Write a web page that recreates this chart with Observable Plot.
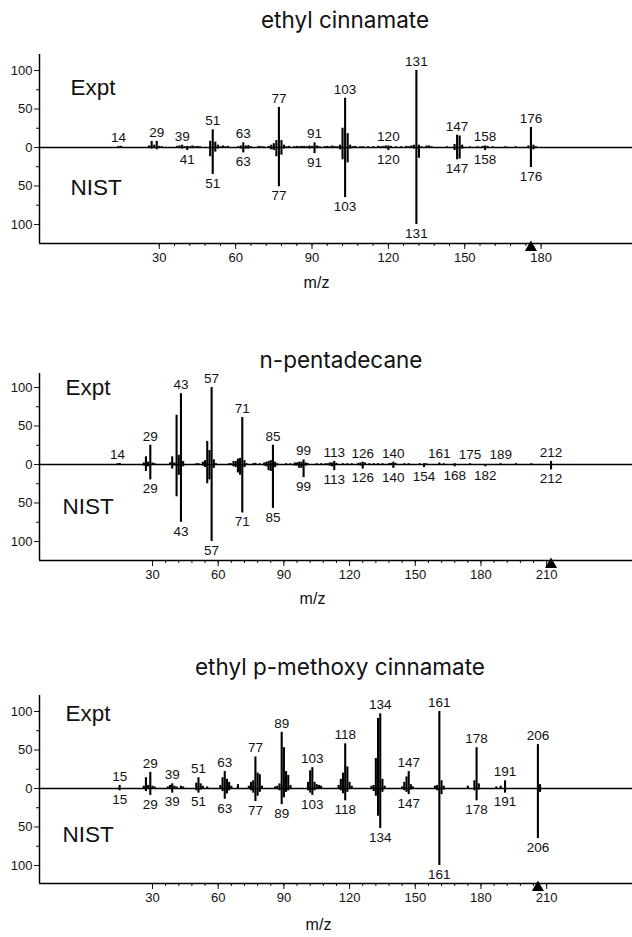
<!DOCTYPE html>
<html><head><meta charset="utf-8">
<script src="https://cdn.jsdelivr.net/npm/d3@7"></script>
<script src="https://cdn.jsdelivr.net/npm/@observablehq/plot@0.6"></script>
<style>
html,body{margin:0;padding:0;background:#fff;}
body{position:relative;width:632px;height:937px;overflow:hidden;}
.panel{position:absolute;left:0;width:632px;}
.title{position:absolute;width:400px;text-align:center;font-family:Inter,"Open Sans",sans-serif;font-size:22.5px;line-height:22px;color:#111;white-space:nowrap;}
</style></head><body>
<script>
// ---------- titles ----------
const titles = ["ethyl cinnamate", "n-pentadecane", "ethyl p-methoxy cinnamate"];
const sideLabelText = ["Expt", "NIST"];

// ---------- ethyl cinnamate: [m/z, relative intensity] ----------
const ecExpt = [[14,1.5],[15,1.5],[26,2],[27,8],[28,3],[29,8],[30,1.5],[31,1],[37,1.5],[38,2],[39,3],[40,1],[41,1.5],[42,1],[43,2],[44,1],[45,1.5],[46,1],
[50,8],[51,23],[52,7],[53,3],[54,1],[55,2],[56,1],[57,1.5],[61,1],[62,2],[63,6],[64,2],[65,2.5],[66,1],[69,1.5],[70,1],[71,1],[73,1.5],[74,3],[75,5],[76,9],[77,52],[78,9],[79,3],
[80,1],[81,1.5],[83,1],[84,1.5],[85,1],[86,1.5],[87,1.5],[88,1],[89,2],[90,1.5],[91,6],[92,2],[93,1],[95,1],[96,1.5],[97,1],[98,2],[99,1],[100,1],[101,3],[102,25],[103,64],[104,18],[105,3],[106,1],[107,1.5],
[109,1],[110,1],[112,1],[114,1],[116,1.5],[117,1],[118,1.5],[119,2],[120,2],[121,1.5],[123,1],[125,1],[127,1.5],[128,1],[129,2],[130,3],[131,100],[132,3],[133,1],[135,2],[136,2],[137,1],
[143,1],[146,4],[147,16],[148,15],[149,3],[152,1],[155,1],[157,1.5],[158,2],[159,1.5],[161,1],[166,1],[170,1],[175,2],[176,26],[177,3],[178,1]];
const ecNist = [[14,1],[27,2],[29,3],[38,1],[39,2],[41,4],[50,12],[51,35],[52,6],[53,2],[62,2],[63,7],[64,2],[65,2],[74,3],[75,4],[76,12],[77,51],[78,10],[79,2],
[89,2],[91,8],[92,1.5],[101,3],[102,16],[103,65],[104,20],[105,2],[119,1.5],[120,4],[121,1],[130,2],[131,100],[132,14],[133,1],[146,4],[147,16],[148,15],[149,2],[158,4],[176,26],[177,3]];
const ecLabelsExpt = [14,29,39,51,63,77,91,103,120,131,147,158,176];
const ecLabelsNist = [41,51,63,77,91,103,120,131,147,158,176];
const ecMolIon = [176];
const ecXTicks = [30,60,90,120,150,180];

// ---------- n-pentadecane ----------
const pdExpt = [[14,1],[15,1.5],[26,2],[27,10],[28,3],[29,25],[30,2],[31,1],[38,2],[39,10],[40,2],[41,64],[42,12],[43,92],[44,4],[50,1],[51,1],[53,3],[54,5],[55,30],[56,18],[57,100],[58,6],[59,1],
[65,1],[66,1],[67,4],[68,4],[69,7],[70,8],[71,61],[72,5],[73,1],[76,1],[77,1.5],[79,1],[81,2],[82,3],[83,4],[84,5],[85,25],[86,3],[87,1],[91,1],[93,1],[95,2],[96,2],[97,3],[98,3],[99,6],[100,2],[101,1],
[105,1],[107,1],[109,1],[110,1],[111,2],[112,2],[113,4],[114,1.5],[117,1],[119,1],[121,1],[124,1.5],[125,2],[126,3],[127,2],[129,1],[131,1],[133,1],[135,1],[138,1],[139,1.5],[140,3],[141,1.5],
[145,1],[147,1],[152,1],[154,1],[155,1],[161,2],[163,1],[168,1],[175,1],[189,1],[196,1],[203,1],[212,4]];
const pdNist = [[15,1],[26,2],[27,9],[28,3],[29,20],[39,6],[40,2],[41,42],[42,14],[43,75],[44,3],[53,2],[54,4],[55,25],[56,20],[57,100],[58,5],[67,3],[68,4],[69,11],[70,14],[71,63],[72,4],
[81,2],[82,3],[83,8],[84,9],[85,57],[86,4],[95,2],[96,2],[97,5],[98,5],[99,17],[100,2],[111,2],[112,3],[113,8],[114,1],[125,2],[126,6],[127,1],[139,1],[140,5],[141,1],[154,4],[155,1],[168,3],[182,3],[212,7]];
const pdLabelsExpt = [14,29,43,57,71,85,99,113,126,140,161,175,189,212];
const pdLabelsNist = [29,43,57,71,85,99,113,126,140,154,168,182,212];
const pdMolIon = [212];
const pdXTicks = [30,60,90,120,150,180,210];

// ---------- ethyl p-methoxy cinnamate ----------
const pmExpt = [[15,4],[26,3],[27,14],[28,4],[29,21],[30,3],[31,2],[37,2],[38,4],[39,6],[40,3],[41,2],[43,3],[44,2],[50,7],[51,14],[52,6],[53,3],[55,2],
[61,4],[62,14],[63,22],[64,12],[65,8],[66,3],[69,5],[74,3],[75,8],[76,10],[77,41],[78,20],[79,18],[80,3],[86,2],[87,3],[88,6],[89,73],[90,53],[91,22],[92,17],[93,4],
[101,8],[102,23],[103,27],[104,8],[105,5],[106,4],[107,3],[115,4],[116,12],[117,20],[118,58],[119,28],[120,8],[121,3],[130,3],[131,4],[132,39],[133,91],[134,97],[135,12],[136,3],
[144,2],[145,8],[146,15],[147,22],[148,5],[149,2],[159,3],[160,4],[161,100],[162,10],[163,3],[174,3],[177,10],[178,53],[179,6],[187,2],[189,3],[191,10],[206,57],[207,5]];
const pmNist = [[15,3],[27,4],[29,9],[39,6],[50,3],[51,6],[52,2],[62,4],[63,14],[64,7],[65,3],[75,3],[76,6],[77,17],[78,10],[79,5],[88,3],[89,21],[90,12],[91,5],[92,3],
[101,3],[102,6],[103,9],[104,3],[116,3],[117,7],[118,16],[119,5],[131,4],[132,10],[133,36],[134,52],[135,5],[145,3],[146,5],[147,8],[148,2],[160,3],[161,100],[162,8],[163,2],
[177,3],[178,16],[179,2],[191,6],[206,65],[207,5]];
const pmLabelsExpt = [15,29,39,51,63,77,89,103,118,134,147,161,178,191,206];
const pmLabelsNist = [15,29,39,51,63,77,89,103,118,134,147,161,178,191,206];
const pmMolIon = [206];
const pmXTicks = [30,60,90,120,150,180,210];

const yMajorTicks = [-100,-50,0,50,100];
const yMinorTicks = [-75,-25,25,75];

// ---------- layout (positions / styles) ----------
const panels = [
  {title: titles[0], expt: ecExpt, nist: ecNist, labE: ecLabelsExpt, labN: ecLabelsNist, mol: ecMolIon, xt: ecXTicks,
   top: 0, height: 310, mt: 54, mb: 67, xdom: [-17.05, 215.9], ydom: [-124.7, 120.8],
   titleX: 345, titleTop: 9, side: [{t: sideLabelText[0], y: 77, dx: 31}, {t: sideLabelText[1], y: -52, dx: 31}], mzDx: -19.5, mzDy: 44},
  {title: titles[1], expt: pdExpt, nist: pdNist, labE: pdLabelsExpt, labN: pdLabelsNist, mol: pdMolIon, xt: pdXTicks,
   top: 320, height: 300, mt: 53, mb: 60, xdom: [-21.6, 249.2], ydom: [-124.7, 118.2],
   titleX: 341, titleTop: 349, side: [{t: sideLabelText[0], y: 99, dx: 26}, {t: sideLabelText[1], y: -55, dx: 23}], mzDx: -23.5, mzDy: 43},
  {title: titles[2], expt: pmExpt, nist: pmNist, labE: pmLabelsExpt, labN: pmLabelsNist, mol: pmMolIon, xt: pmXTicks,
   top: 630, height: 307, mt: 65, mb: 54, xdom: [-21.6, 249.2], ydom: [-123.4, 120.8],
   titleX: 340, titleTop: 656, side: [{t: sideLabelText[0], y: 97, dx: 26}, {t: sideLabelText[1], y: -60, dx: 23}], mzDx: -17.5, mzDy: 46}
];

function makePanel(p) {
  const up = p.expt.map(([mz, v]) => ({mz, v}));
  const dn = p.nist.map(([mz, v]) => ({mz, v: -v}));
  const look = (arr, m) => { const f = arr.find(d => d.mz === m); return f ? f.v : 0; };
  const xMin = p.xt[0], xMax = p.xt[p.xt.length - 1];
  const minor = d3.range(xMin, xMax + 0.1, 6);
  return Plot.plot({
    width: 632, height: p.height,
    marginLeft: 39, marginRight: 0, marginTop: p.mt, marginBottom: p.mb,
    x: {domain: p.xdom}, y: {domain: p.ydom},
    style: {fontFamily: '"Liberation Sans", Arial, sans-serif', fontSize: "13px", color: "#111", background: "white", overflow: "visible"},
    marks: [
      Plot.ruleY([0], {stroke: "#000", strokeWidth: 1.5}),
      Plot.ruleX(up, {x: "mz", y1: 0, y2: "v", stroke: "#000", strokeWidth: 2.1}),
      Plot.ruleX(dn, {x: "mz", y1: 0, y2: "v", stroke: "#000", strokeWidth: 2.1}),
      Plot.text(p.labE, {x: m => m, y: m => look(up, m), text: m => String(m), dy: -9, fontSize: 13.5, fill: "#111"}),
      Plot.text(p.labN, {x: m => m, y: m => look(dn, m), text: m => String(m), dy: 9, fontSize: 13.5, fill: "#111"}),
      Plot.axisY({ticks: yMajorTicks, tickFormat: v => String(Math.abs(v)), tickSize: 5, tickPadding: 2, label: null, fontSize: 13}),
      Plot.axisY({ticks: yMinorTicks, tickFormat: () => "", tickSize: 3, label: null}),
      Plot.axisX({ticks: p.xt, tickSize: 6, tickPadding: 3, label: null, fontSize: 13}),
      Plot.axisX({ticks: minor, tickFormat: () => "", tickSize: 3, label: null}),
      Plot.ruleX([p.xdom[0]], {stroke: "#000", strokeWidth: 1.5}),
      Plot.ruleY([p.ydom[0]], {stroke: "#000", strokeWidth: 1.5}),
      Plot.dot(p.mol, {x: m => m, frameAnchor: "bottom", symbol: "triangle", r: 4.5, fill: "#000", stroke: "none", dy: 4}),
      Plot.text(["m/z"], {frameAnchor: "bottom", text: d => d, dx: p.mzDx, dy: p.mzDy, fontSize: 16, fill: "#111"}),
      ...p.side.map(s => Plot.text([s], {frameAnchor: "left", y: "y", text: "t", dx: s.dx, textAnchor: "start", fontSize: 22.5, fill: "#111"}))
    ]
  });
}

panels.forEach(p => {
  const wrap = document.createElement("div");
  wrap.className = "panel";
  wrap.style.top = p.top + "px";
  wrap.appendChild(makePanel(p));
  document.body.appendChild(wrap);
  const t = document.createElement("div");
  t.className = "title";
  t.textContent = p.title;
  t.style.left = (p.titleX - 200) + "px";
  t.style.top = p.titleTop + "px";
  document.body.appendChild(t);
});
</script>
</body></html>
